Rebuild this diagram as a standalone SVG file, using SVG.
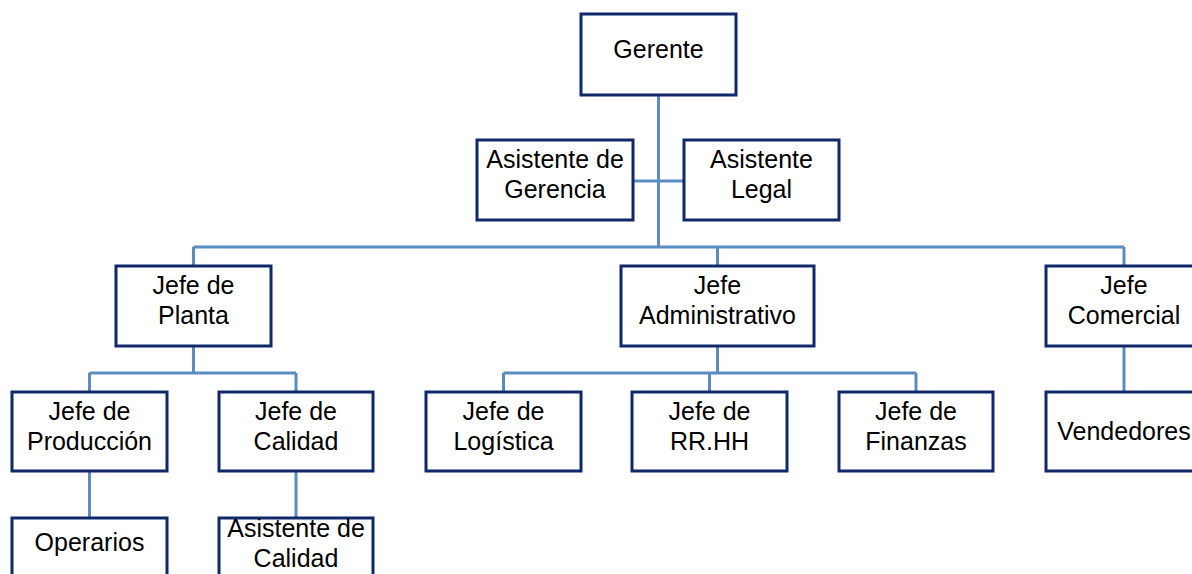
<svg xmlns="http://www.w3.org/2000/svg" width="1192" height="574" viewBox="0 0 1192 574">
<style>
.box{fill:#fff;stroke:#10296a;stroke-width:3}
.ln{fill:none;stroke:#5a8cc2;stroke-width:3}
text{font-family:"Liberation Sans",Arial,sans-serif;font-size:25px;fill:#000;text-anchor:middle}
</style>
<rect width="1192" height="574" fill="#fff"/>
<g id="connectors">
<path class="ln" d="M658.5 95V247M633 181H684M193.5 247H1124M193.5 247V266M717.5 247V266M1124 247V266"/>
<path class="ln" d="M193.5 346V373M89.5 373H296M89.5 373V392M296 373V392"/>
<path class="ln" d="M717.5 346V373M503.5 373H916M503.5 373V392M709.5 373V392M916 373V392"/>
<path class="ln" d="M1124 346V392M89.5 471V518M296 471V518"/>
</g>
<g id="gerente"><rect class="box" x="581" y="14" width="155" height="81"/><text x="658.5" y="58">Gerente</text></g>
<g id="asistente-gerencia"><rect class="box" x="477" y="140" width="156" height="80"/><text x="555" y="168">Asistente de</text><text x="555" y="198">Gerencia</text></g>
<g id="asistente-legal"><rect class="box" x="684" y="140" width="155" height="80"/><text x="761.5" y="168">Asistente</text><text x="761.5" y="198">Legal</text></g>
<g id="jefe-planta"><rect class="box" x="116" y="266" width="155" height="80"/><text x="193.5" y="294">Jefe de</text><text x="193.5" y="324">Planta</text></g>
<g id="jefe-administrativo"><rect class="box" x="621" y="266" width="193" height="80"/><text x="717.5" y="294">Jefe</text><text x="717.5" y="324">Administrativo</text></g>
<g id="jefe-comercial"><rect class="box" x="1046" y="266" width="155" height="80"/><text x="1124" y="294">Jefe</text><text x="1124" y="324">Comercial</text></g>
<g id="jefe-produccion"><rect class="box" x="12" y="392" width="155" height="79"/><text x="89.5" y="420">Jefe de</text><text x="89.5" y="450">Producción</text></g>
<g id="jefe-calidad"><rect class="box" x="219" y="392" width="154" height="79"/><text x="296" y="420">Jefe de</text><text x="296" y="450">Calidad</text></g>
<g id="jefe-logistica"><rect class="box" x="426" y="392" width="155" height="79"/><text x="503.5" y="420">Jefe de</text><text x="503.5" y="450">Logística</text></g>
<g id="jefe-rrhh"><rect class="box" x="632" y="392" width="155" height="79"/><text x="709.5" y="420">Jefe de</text><text x="709.5" y="450">RR.HH</text></g>
<g id="jefe-finanzas"><rect class="box" x="839" y="392" width="154" height="79"/><text x="916" y="420">Jefe de</text><text x="916" y="450">Finanzas</text></g>
<g id="vendedores"><rect class="box" x="1046" y="392" width="155" height="79"/><text x="1124" y="440">Vendedores</text></g>
<g id="operarios"><rect class="box" x="12" y="518" width="155" height="80"/><text x="89.5" y="551">Operarios</text></g>
<g id="asistente-calidad"><rect class="box" x="219" y="518" width="154" height="80"/><text x="296" y="537">Asistente de</text><text x="296" y="567">Calidad</text></g>
</svg>
